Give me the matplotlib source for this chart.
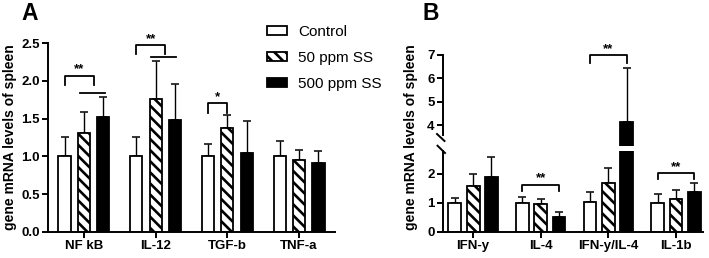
import matplotlib
matplotlib.use("Agg")
import matplotlib.pyplot as plt
from matplotlib.patches import Patch
from matplotlib.lines import Line2D
import numpy as np

plt.rcParams["font.family"] = ["Liberation Sans", "DejaVu Sans"]
plt.rcParams["hatch.linewidth"] = 1.9

# ---- data ----
series_names = ["Control", "50 ppm SS", "500 ppm SS"]

genes_a = ["NF kB", "IL-12", "TGF-b", "TNF-a"]
ctrl_a = [1.00, 1.00, 1.00, 1.00]
ctrl_a_err = [0.26, 0.26, 0.17, 0.20]
ss50_a = [1.31, 1.76, 1.37, 0.95]
ss50_a_err = [0.28, 0.50, 0.18, 0.14]
ss500_a = [1.52, 1.48, 1.04, 0.91]
ss500_a_err = [0.27, 0.48, 0.43, 0.16]

genes_b = ["IFN-y", "IL-4", "IFN-y/IL-4", "IL-1b"]
ctrl_b = [1.00, 1.00, 1.03, 1.00]
ctrl_b_err = [0.16, 0.18, 0.34, 0.29]
ss50_b = [1.58, 0.95, 1.68, 1.12]
ss50_b_err = [0.40, 0.17, 0.51, 0.31]
ss500_b = [1.89, 0.52, 4.12, 1.37]
ss500_b_err = [0.67, 0.15, 2.34, 0.29]

# significance: (group, left bar, right bar or "mid", height, label)
sig_a = [(0, 0, "mid", 2.07, "**"), (1, 0, "mid", 2.47, "**"), (2, 0, 1, 1.70, "*")]
sig_a_lines = [(0, 1.84), (1, 2.31)]
sig_b = [(1, 0, 2, 1.62, "**"), (3, 0, 2, 2.02, "**"), (2, 0, 2, 7.0, "**")]

W, H = 709, 258
fig = plt.figure(figsize=(W / 100, H / 100), dpi=100)


def px(x0, y0, x1, y1):
    # pixel box (top-left origin) -> figure fraction rect
    return [x0 / W, 1 - y1 / H, (x1 - x0) / W, (y1 - y0) / H]


off = 0.27
bw_a, bw_b = 0.17, 0.19
face = ["white", "white", "black"]
hatches = [None, "\\\\\\", None]
ekw = dict(fmt="none", ecolor="black", elinewidth=1.0, capsize=3.0, capthick=1.1, zorder=1)


def style(ax, spine_bottom=True):
    for s in ["top", "right"]:
        ax.spines[s].set_visible(False)
    ax.spines["left"].set_linewidth(1.4)
    ax.spines["bottom"].set_linewidth(1.4)
    if not spine_bottom:
        ax.spines["bottom"].set_visible(False)
    ax.tick_params(width=1.4, length=4, labelsize=9.5, pad=2)
    for t in ax.get_yticklabels() + ax.get_xticklabels():
        t.set_fontweight("bold")


def draw_bars(ax, x, vals, errs, bw, err_on=True):
    for i, (v, e) in enumerate(zip(vals, errs)):
        xi = x + (i - 1) * off
        ax.bar(xi, v, bw, color=face[i], edgecolor="black", linewidth=1.3,
               hatch=hatches[i], zorder=2)
        if err_on:
            ax.errorbar(xi, v, yerr=[np.zeros(len(v)), e], **ekw)


def bracket(ax, xl, xr, y, leg, text, fs=9.5):
    ax.plot([xl, xl, xr, xr], [y - leg, y, y, y - leg], color="black", lw=1.3,
            clip_on=False, zorder=3)
    ax.text((xl + xr) / 2, y, text, ha="center", va="bottom", fontsize=fs,
            fontweight="bold", clip_on=False)


# ---- panel A ----
axA = fig.add_axes(px(48, 43, 335, 232))
xa = np.arange(len(genes_a))
draw_bars(axA, xa, [ctrl_a, ss50_a, ss500_a], [ctrl_a_err, ss50_a_err, ss500_a_err], bw_a)
axA.set_xlim(-0.5, 3.5)
axA.set_ylim(0, 2.5)
axA.set_yticks([0, 0.5, 1.0, 1.5, 2.0, 2.5])
axA.set_yticklabels(["0.0", "0.5", "1.0", "1.5", "2.0", "2.5"])
axA.set_xticks(xa)
axA.set_xticklabels(genes_a)
axA.set_ylabel("gene mRNA levels of spleen", fontsize=10, fontweight="bold", labelpad=3)
style(axA)
for g, l, r, y, t in sig_a:
    xl = g + (l - 1) * off
    xr = g + off / 2 if r == "mid" else g + (r - 1) * off
    bracket(axA, xl, xr, y, 0.12, t)
for g, y in sig_a_lines:
    axA.plot([g - 0.06, g + off + 0.02], [y, y], color="black", lw=1.3, clip_on=False)
fig.text(21 / W, 1 - 20 / H, "A", fontsize=16.5, fontweight="bold", va="baseline")

# ---- panel B (broken axis) ----
axB = fig.add_axes(px(443, 151, 703, 232))
axBu = fig.add_axes(px(443, 55, 703, 146))
xb = np.arange(len(genes_b))
vals_b = [ctrl_b, ss50_b, ss500_b]
errs_b = [ctrl_b_err, ss50_b_err, ss500_b_err]
draw_bars(axB, xb, vals_b, errs_b, bw_b, err_on=False)
for i, (v, e) in enumerate(zip(vals_b, errs_b)):
    xi = xb + (i - 1) * off
    show = np.array(v) < 2.77
    axB.errorbar(xi[show], np.array(v)[show], yerr=[np.zeros(show.sum()), np.array(e)[show]], **ekw)
draw_bars(axBu, xb, vals_b, errs_b, bw_b)
for ax in (axB, axBu):
    ax.set_xlim(-0.445, 3.40)
axB.set_ylim(0, 2.77)
axB.set_yticks([0, 1, 2])
axB.set_xticks(xb)
axB.set_xticklabels(genes_b)
axBu.set_ylim(3.1, 7)
axBu.set_yticks([4, 5, 6, 7])
axBu.set_xticks([])
style(axB)
style(axBu, spine_bottom=False)
axBu.spines["left"].set_bounds(3.57, 7)
axB.set_ylabel("gene mRNA levels of spleen", fontsize=10, fontweight="bold", labelpad=3)
axB.yaxis.set_label_coords(-0.095, 1.17)
for g, l, r, y, t in sig_b:
    ax = axBu if y > 3 else axB
    leg = 0.36 if y > 3 else 0.22
    bracket(ax, g + (l - 1) * off, g + (r - 1) * off, y, leg, t)
# break marks
for (x0, y0, x1, y1) in [(437, 134, 444.5, 141), (437.5, 145.7, 445, 153)]:
    fig.add_artist(Line2D([x0 / W, x1 / W], [1 - y0 / H, 1 - y1 / H], color="black", lw=1.4))
fig.text(422 / W, 1 - 20 / H, "B", fontsize=16.5, fontweight="bold", va="baseline")

# ---- legend ----
handles = [Patch(facecolor=face[i], edgecolor="black", hatch=hatches[i], linewidth=1.3)
           for i in range(3)]
fig.legend(handles, series_names, loc="upper left", bbox_to_anchor=(267 / W, 1 - 25 / H),
           frameon=False, fontsize=11, handlelength=1.3, handleheight=0.5,
           handletextpad=0.75, labelspacing=0.78, borderaxespad=0, borderpad=0)

fig.savefig("out.png", dpi=100)
